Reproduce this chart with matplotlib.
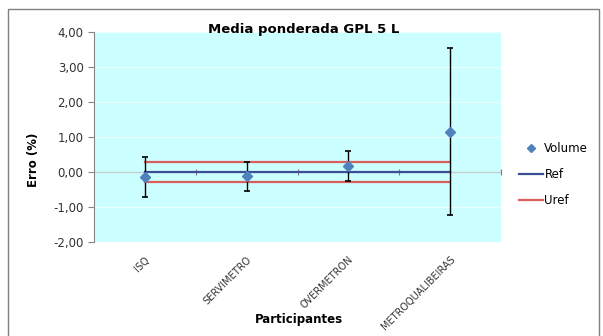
import matplotlib.pyplot as plt
from matplotlib.patches import Rectangle
from matplotlib.ticker import FuncFormatter

# data
participantes = ['ISQ', 'SERVIMETRO', 'OVERMETRON', 'METROQUALIBEIRAS']
volume = [-0.15, -0.11, 0.18, 1.15]
err_sup = [0.42, 0.30, 0.61, 3.53]
err_inf = [-0.72, -0.54, -0.26, -1.24]
ref = 0.0
uref = 0.28
y_ticks = [-2, -1, 0, 1, 2, 3, 4]

W, H = 603, 336
fig = plt.figure(figsize=(W / 100, H / 100), dpi=100)
ax = fig.add_axes([94 / W, 1 - 242 / H, (501 - 94) / W, (242 - 32) / H])
ax.set_facecolor('#CCFFFF')

x = list(range(1, len(participantes) + 1))
yerr = [[v - lo for v, lo in zip(volume, err_inf)],
        [hi - v for v, hi in zip(volume, err_sup)]]

# Ref and Uref lines from first to last participant
ax.plot([x[0], x[-1]], [ref + uref, ref + uref], color='#DA5E5E', lw=1.6, zorder=2)
ax.plot([x[0], x[-1]], [ref - uref, ref - uref], color='#DA5E5E', lw=1.6, zorder=2)
ax.plot([x[0], x[-1]], [ref, ref], color='#3C4F96', lw=1.6, zorder=3)

ax.errorbar(x, volume, yerr=yerr, fmt='none', ecolor='black', elinewidth=1,
            capsize=2.5, capthick=1.2, zorder=4)
ax.plot(x, volume, 'D', color='#4F81BD', ms=5, zorder=5)

ax.set_xlim(0.5, len(participantes) + 0.5)
ax.set_ylim(-2, 4)
ax.set_yticks(y_ticks)
ax.yaxis.set_major_formatter(FuncFormatter(lambda v, p: f'{v:.2f}'.replace('.', ',')))
for t in y_ticks:
    ax.axhline(t, color='white', lw=0.8, alpha=0.6, zorder=1)

for s in ['top', 'right', 'bottom']:
    ax.spines[s].set_visible(False)
ax.spines['left'].set_color('#868686')
ax.tick_params(axis='y', colors='#868686', length=4, labelcolor='#333333', labelsize=8.5)

ax.set_xticks(x)
ax.set_xticklabels(participantes, rotation=45, ha='right', rotation_mode='anchor',
                   fontsize=7, color='#333333')
ax.tick_params(axis='x', length=0, pad=9)

# category axis crossing at zero
sec = ax.secondary_xaxis(1 / 3)
sec.set_xticks([i + 0.5 for i in x])
sec.set_xticklabels([])
sec.spines['bottom'].set_color('#7A7A7A')
sec.tick_params(axis='x', direction='inout', length=4, colors='#7A7A7A')

fig.text(304 / W, 1 - 29 / H, 'Media ponderada GPL 5 L', ha='center', va='center',
         fontsize=9.5, fontweight='bold')
fig.text(33 / W, 1 - 160 / H, 'Erro (%)', rotation=90, ha='center', va='center',
         fontsize=8.5, fontweight='bold')
fig.text(299 / W, 1 - 320 / H, 'Participantes', ha='center', va='center',
         fontsize=8.5, fontweight='bold')

h_vol, = ax.plot([], [], 'D', color='#4F81BD', ms=4)
h_ref, = ax.plot([], [], color='#3C4F96', lw=1.6)
h_uref, = ax.plot([], [], color='#DA5E5E', lw=1.6)
fig.legend([h_vol, h_ref, h_uref], ['Volume', 'Ref', 'Uref'], loc='upper left',
           bbox_to_anchor=(519 / W, 1 - 142 / H), frameon=False, fontsize=8.5,
           handlelength=2.0, handletextpad=0.15, labelspacing=1.1,
           borderpad=0, borderaxespad=0)

fig.patches.append(Rectangle((8 / W, -0.02), (599 - 8) / W, 1 - 9 / H + 0.02,
                             transform=fig.transFigure, fill=False,
                             edgecolor='#808080', lw=1))

fig.savefig('out.png', dpi=100)
